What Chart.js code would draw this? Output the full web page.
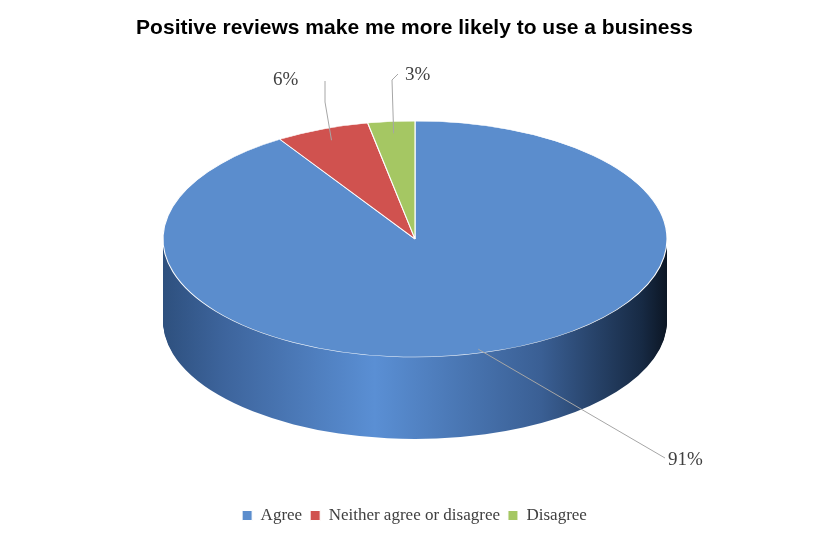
<!DOCTYPE html>
<html><head><meta charset="utf-8">
<script src="https://cdn.jsdelivr.net/npm/chart.js@4"></script>
<style>html,body{margin:0;background:#fff}#w{width:829px;height:544px}</style>
</head><body><div id="w"><canvas id="c"></canvas></div>
<script>
const categories = ["Agree", "Neither agree or disagree", "Disagree"];
const values = [91, 6, 3];
const labelsText = ["91%", "6%", "3%"];
const colors = ["#5b8dcd", "#d0524f", "#a5c763"];

// layout of the 3D ellipse (screen px)
const E = {cx: 415, cy: 239, rx: 252, ry: 118, depth: 82};
const labelPos = [
  {x: 690, y: 460, path: [[0.30, 0.95, 'in'], [665, 458]]},
  {x: 289, y: 80, path: [[325, 81], [325, 102]]},
  {x: 421, y: 75, path: [[398, 74], [392, 80]]}
];

function tf(chart){
  const a = chart.getDatasetMeta(0).data[0];
  const r = a.outerRadius;
  return {r, ox: a.x, oy: a.y, kx: E.rx / r, ky: E.ry / r};
}

const pie3d = {
  id: 'pie3d',
  beforeDatasetsDraw(chart){
    const ctx = chart.ctx, t = tf(chart);
    ctx.save();
    ctx.translate(E.cx, E.cy);
    ctx.scale(t.kx, t.ky);
    ctx.translate(-t.ox, -t.oy);
    const g = ctx.createLinearGradient(t.ox - t.r, 0, t.ox + t.r, 0);
    g.addColorStop(0, '#2e507e');
    g.addColorStop(0.12, '#3d649c');
    g.addColorStop(0.42, '#5a8fd4');
    g.addColorStop(0.75, '#3a5f94');
    g.addColorStop(0.95, '#172a44');
    g.addColorStop(1, '#0c1624');
    const meta = chart.getDatasetMeta(0);
    for (let i = E.depth; i >= 1; i -= 1) {
      ctx.save();
      ctx.translate(0, i / t.ky);
      meta.data.forEach(arc => {
        const o = arc.options;
        arc.options = Object.assign({}, o, {backgroundColor: g, borderColor: g, borderWidth: 0});
        arc.draw(ctx);
        arc.options = o;
      });
      ctx.restore();
    }
    // bottom rim line
    ctx.save();
    ctx.translate(0, E.depth / t.ky);
    meta.data.forEach(arc => {
      const o = arc.options;
      arc.options = Object.assign({}, o, {backgroundColor: 'rgba(0,0,0,0)', borderColor: '#ffffff', borderWidth: 0.5});
      ctx.restore(); ctx.save(); ctx.translate(0, 0);
      arc.options = o;
    });
    ctx.restore();
  },
  afterDatasetsDraw(chart){
    const ctx = chart.ctx;
    ctx.restore();
    ctx.save();
    ctx.strokeStyle = '#a6a6a6';
    ctx.lineWidth = 1;
    ctx.fillStyle = '#404040';
    ctx.font = '19px "Liberation Serif", serif';
    ctx.textBaseline = 'middle';
    const meta = chart.getDatasetMeta(0);
    meta.data.forEach((arc, i) => {
      const mid = (arc.startAngle + arc.endAngle) / 2;
      let ax = E.cx + Math.cos(mid) * E.rx * 0.9;
      let ay = E.cy + Math.sin(mid) * E.ry * 0.9;
      if (i === 0) { ay += E.depth * 0.1; }
      const p = labelPos[i];
      ctx.beginPath();
      ctx.moveTo(ax, ay);
      if (i === 0) { ctx.lineTo(p.x - 25, p.y - 2); }
      else { for (let k = p.path.length - 1; k >= 0; k--) ctx.lineTo(p.path[k][0], p.path[k][1]); }
      ctx.stroke();
      ctx.textAlign = 'left';
      ctx.fillText(labelsText[i], i === 0 ? p.x - 22 : p.x - 16, p.y);
    });
    ctx.restore();
  }
};

new Chart(document.getElementById('c'), {
  type: 'pie',
  data: {labels: categories, datasets: [{data: values, backgroundColor: colors, borderColor: '#ffffff', borderWidth: 1}]},
  options: {
    responsive: true, maintainAspectRatio: false, animation: false,
    layout: {padding: {top: 10, bottom: 10}},
    plugins: {
      title: {display: true, text: 'Positive reviews make me more likely to use a business', color: '#000',
        font: {family: '"Liberation Sans", Arial, sans-serif', size: 21, weight: 'bold'}, padding: {top: 6, bottom: 10}},
      legend: {position: 'bottom', labels: {boxWidth: 10, boxHeight: 10, color: '#404040', padding: 8,
        font: {family: '"Liberation Serif", serif', size: 17}}},
      tooltip: {enabled: false}
    }
  },
  plugins: [pie3d]
});
</script></body></html>
